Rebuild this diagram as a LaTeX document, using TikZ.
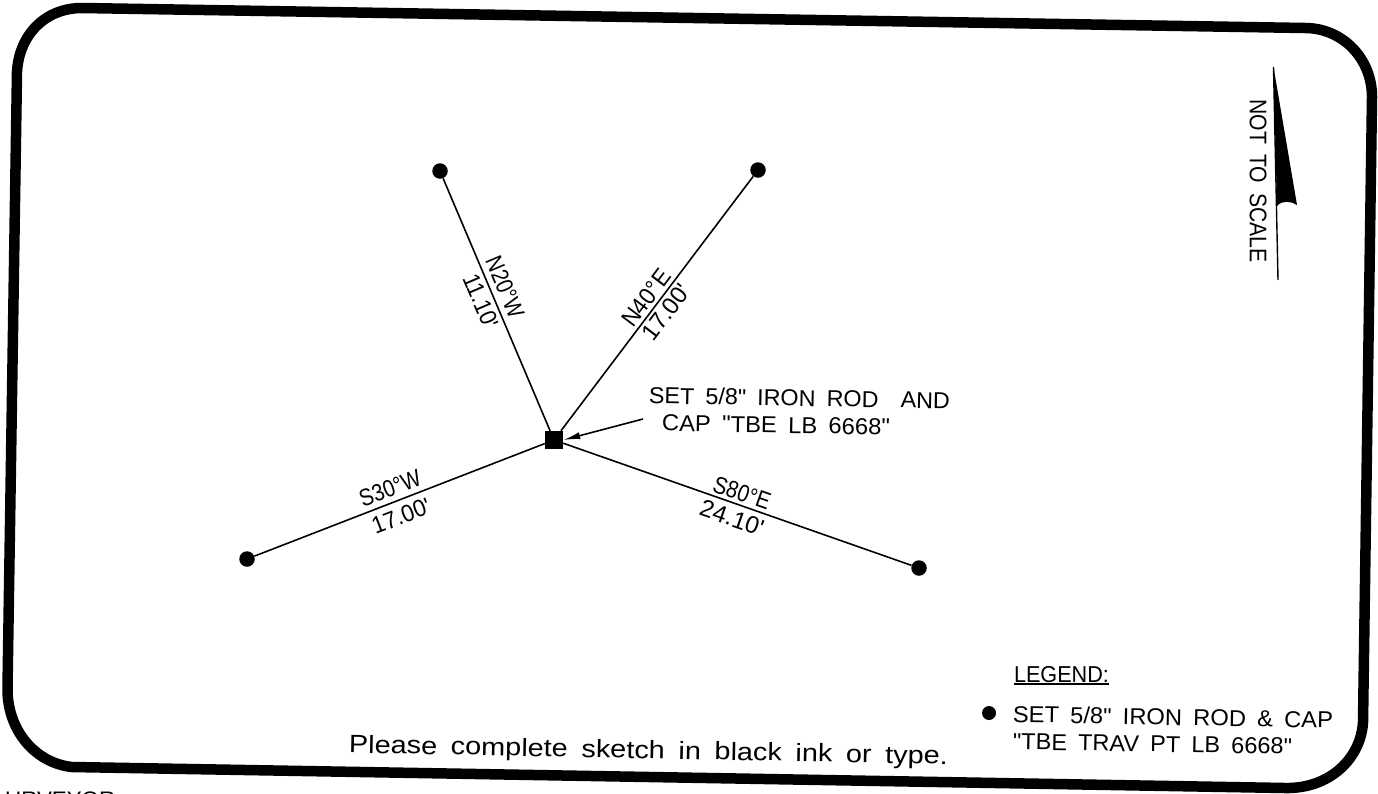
\documentclass[tikz,border=0pt]{standalone}
\usepackage{fontspec}
\usepackage{graphicx}
\newfontfamily\plainf[WordSpace=1.7]{Liberation Sans}
\usetikzlibrary{arrows.meta}
\newcommand\fitw[2]{\resizebox{#1pt}{\height}{#2}}
\tikzset{
  frameline/.style={line width=10.5pt,line join=round},
  leader/.style={line width=1.6pt,black},
  pin/.style={circle,fill=black,inner sep=0pt,minimum size=15.5pt},
  rodmark/.style={rectangle,fill=black,inner sep=0pt,minimum size=18pt},
  lbl/.style={inner sep=0pt,font=\plainf\fontsize{23}{23}\selectfont},
  smalllbl/.style={inner sep=0pt,font=\plainf\fontsize{24}{24}\selectfont}
}
\begin{document}
\begin{tikzpicture}[x=1pt,y=-1pt]
\useasboundingbox (0,0) rectangle (1378,793);
% frame
\draw[frameline] (17,72)
  .. controls (19,35) and (45,8) .. (82,8)
  -- (1305,28)
  .. controls (1342,28) and (1372,58) .. (1372,97)
  -- (1363,722)
  .. controls (1361,758) and (1330,789) .. (1285,788)
  -- (72,767)
  .. controls (35,763) and (7,730) .. (7.5,688)
  -- cycle;
% nodes
\node[rodmark] (rod) at (554,440) {};
\node[pin] (nw) at (440,171) {};
\node[pin] (ne) at (758,170) {};
\node[pin] (sw) at (247,559) {};
\node[pin] (se) at (919,568) {};
\draw[leader] (rod) -- (nw);
\draw[leader] (rod) -- (ne);
\draw[leader] (rod) -- (sw);
\draw[leader] (rod) -- (se);
% bearings
\node[smalllbl,rotate=-67] (a1) at (505,287) {\fitw{64}{N20°W}};
\node[smalllbl,rotate=-67] (a2) at (481,301) {\fitw{57}{11.10'}};
\node[smalllbl,rotate=53] (b1) at (646,298) {\fitw{65}{N40°E}};
\node[smalllbl,rotate=53] (b2) at (666,312) {\fitw{64}{17.00'}};
\node[smalllbl,rotate=21.2] (c1) at (390,488) {\fitw{64}{S30°W}};
\node[smalllbl,rotate=21.2] (c2) at (401,516) {\fitw{61}{17.00'}};
\node[smalllbl,rotate=-19.3] (d1) at (742,493) {\fitw{59}{S80°E}};
\node[smalllbl,rotate=-19.3] (d2) at (732,518) {\fitw{66}{24.10'}};
% callout
\node[lbl,rotate=-1] (t1) at (799.5,398) {\fitw{301}{SET 5/8" IRON ROD\ \ AND}};
\node[lbl,rotate=-1] (t2) at (776,425) {\fitw{228}{CAP "TBE LB 6668"}};
\coordinate (calloutend) at (643,419);
\draw[leader,-{Latex[length=17pt,width=7pt]}] (calloutend) -- (rod.east);
% north arrow
\coordinate (ntop) at (1273.5,67);
\coordinate (nbot) at (1278,280);
\draw[line width=1.4pt] (ntop) -- (nbot);
\fill[black] (ntop) -- (1297,205) .. controls (1291,201) and (1282,200) .. (1277,206) -- cycle;
\node[lbl,rotate=-90,font=\plainf\fontsize{24}{24}\selectfont] (ns) at (1258,181) {\fitw{163}{NOT TO SCALE}};
% legend
\node[lbl] (lg) at (1061.5,675) {\fitw{95}{LEGEND:}};
\draw[line width=1.2pt] (lg.west |- 0,684) -- (lg.east |- 0,684);
\node[pin,minimum size=14pt] (ldot) at (989,713) {};
\node[lbl,rotate=-1] (l1) at (1173,717) {\fitw{320}{SET 5/8" IRON ROD \& CAP}};
\node[lbl,rotate=-1] (l2) at (1152.5,744) {\fitw{279}{"TBE TRAV PT LB 6668"}};
\node[inner sep=0pt,rotate=-1.1,font=\plainf\fontsize{25}{25}\selectfont] (pl) at (648.5,752) {\fitw{599}{Please complete sketch in black ink or type.}};
\node[smalllbl,anchor=west,font=\plainf\fontsize{21}{21}\selectfont] (cut) at (5,799) {\fitw{110}{URVEYOR}};
\end{tikzpicture}
\end{document}
